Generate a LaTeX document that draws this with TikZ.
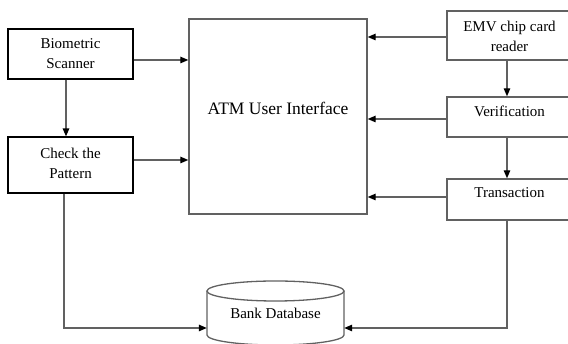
\documentclass[tikz,border=0pt]{standalone}
\usepackage{fontspec}
\setmainfont{Liberation Serif}
\usetikzlibrary{arrows.meta}

\definecolor{edgegray}{gray}{0.38}

\tikzset{
  blackbox/.style={draw=black, line width=1.2pt, fill=white, inner sep=0pt},
  graybox/.style={draw=edgegray, line width=1.4pt, fill=white, inner sep=0pt},
  lbl/.style={inner sep=0pt, align=center, font=\fontsize{15}{20}\selectfont},
  biglbl/.style={inner sep=0pt, font=\fontsize{17.5}{21}\selectfont},
  flow/.style={draw=edgegray, line width=1.3pt,
    -{Triangle[length=8pt, width=6.5pt, fill=black, color=black]}},
  wire/.style={draw=edgegray, line width=1.3pt}
}

\begin{document}
\begin{tikzpicture}[x=1pt, y=1pt]
  \useasboundingbox (0,0) rectangle (568,344);
  \clip (0,0) rectangle (568,344);

  % left column
  \node[blackbox, minimum width=125pt, minimum height=50pt] (bio) at (70.5,290) {};
  \node[lbl] (bioT) at (bio.center) {Biometric\\Scanner};
  \node[blackbox, minimum width=125pt, minimum height=56pt] (chk) at (70.5,179) {};
  \node[lbl] (chkT) at ([yshift=2pt]chk.center) {Check the\\Pattern};

  % central interface block
  \node[graybox, minimum width=178pt, minimum height=195pt] (atm) at (278,227.5) {};
  \node[biglbl] (atmT) at ([yshift=8.5pt]atm.center) {ATM User Interface};

  % right column
  \node[graybox, minimum width=125pt, minimum height=49pt] (emv) at (509.5,308.5) {};
  \node[lbl] (emvT) at ([yshift=-0.5pt]emv.center) {EMV chip card\\reader};
  \node[graybox, minimum width=125pt, minimum height=40pt] (ver) at (509.5,227) {};
  \node[lbl] (verT) at ([yshift=6pt]ver.center) {Verification};
  \node[graybox, minimum width=125pt, minimum height=41pt] (trn) at (509.5,144.5) {};
  \node[lbl] (trnT) at ([yshift=6.5pt]trn.center) {Transaction};

  % database cylinder
  \coordinate (dbc) at (275.5,53);
  \fill[white] (207,53) -- (207,9) arc[start angle=180, end angle=360, x radius=68.5pt, y radius=10pt]
    -- (344,53) -- cycle;
  \draw[wire] (207,53) -- (207,9) arc[start angle=180, end angle=360, x radius=68.5pt, y radius=10pt]
    -- (344,53);
  \draw[wire, fill=white] (dbc) ellipse [x radius=68.5pt, y radius=10pt];
  \node[inner sep=0pt, minimum width=137pt, minimum height=44pt] (db) at (275.5,31) {};
  \node[lbl] (dbT) at (275.5,31) {Bank Database};

  % inputs to the interface
  \coordinate (bioOut) at ([yshift=-6pt]bio.east);
  \coordinate (chkOut) at ([yshift=5pt]chk.east);
  \draw[flow] (bioOut) -- (bioOut -| atm.west);
  \draw[flow] (chkOut) -- (chkOut -| atm.west);

  \coordinate (emvOut) at ([yshift=-1.5pt]emv.west);
  \coordinate (verOut) at ([yshift=-2pt]ver.west);
  \coordinate (trnOut) at ([yshift=2.5pt]trn.west);
  \draw[flow] (emvOut) -- (emvOut -| atm.east);
  \draw[flow] (verOut) -- (verOut -| atm.east);
  \draw[flow] (trnOut) -- (trnOut -| atm.east);

  % vertical chains
  \coordinate (bioDown) at ([xshift=-4.5pt]bio.south);
  \draw[flow] (bioDown) -- (bioDown |- chk.north);
  \coordinate (emvDown) at ([xshift=-2.5pt]emv.south);
  \draw[flow] (emvDown) -- (emvDown |- ver.north);
  \coordinate (verDown) at ([xshift=-2.5pt]ver.south);
  \draw[flow] (verDown) -- (verDown |- trn.north);

  % links to the database
  \coordinate (chkDown) at ([xshift=-6.5pt]chk.south);
  \coordinate (dbIn) at (275.5,16);
  \draw[flow] (chkDown) |- (dbIn -| db.west);
  \coordinate (trnDown) at ([xshift=-2.5pt]trn.south);
  \draw[flow] (trnDown) |- (dbIn -| db.east);
\end{tikzpicture}
\end{document}
